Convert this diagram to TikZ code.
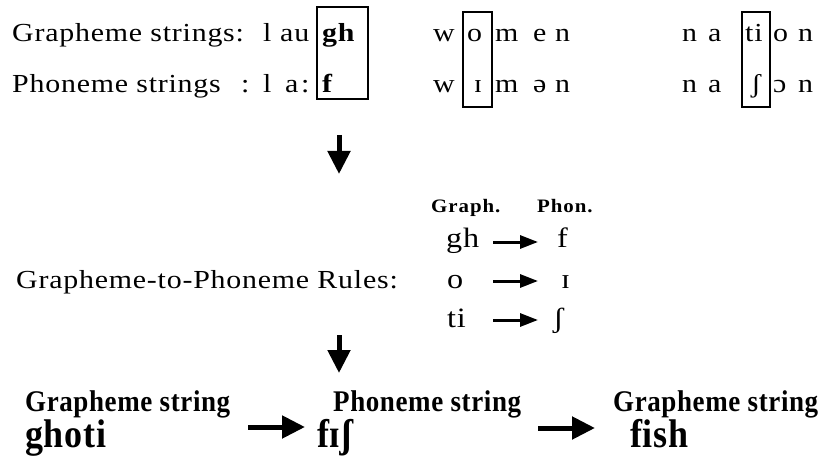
\documentclass[tikz,border=0pt]{standalone}
\usepackage{fontspec}
\setmainfont{Liberation Serif}
\newfontfamily\trackfont[FakeStretch=1.15,LetterSpace=3]{Liberation Serif}
\newfontfamily\widefont[FakeStretch=1.1,LetterSpace=5]{Liberation Serif}
\newfontfamily\narrowfont[FakeStretch=0.9,LetterSpace=2]{Liberation Serif}
\usetikzlibrary{arrows.meta}

\tikzset{
  txt/.style={inner sep=0pt,anchor=base west,font=\trackfont\fontsize{26}{30}\selectfont},
  txtb/.style={txt,font=\trackfont\bfseries\fontsize{26}{30}\selectfont},
  rtxt/.style={txt,font=\trackfont\fontsize{28}{32}\selectfont},
  hdr/.style={inner sep=0pt,anchor=base west,font=\widefont\bfseries\fontsize{19}{21}\selectfont},
  btitle/.style={inner sep=0pt,anchor=base west,font=\narrowfont\bfseries\fontsize{30}{34}\selectfont},
  bword/.style={inner sep=0pt,anchor=base west,font=\narrowfont\bfseries\fontsize{40}{44}\selectfont},
  boxline/.style={line width=2pt},
  bigarrow/.style={line width=5pt,-{Triangle[length=23pt,width=22pt]}},
  rulearrow/.style={line width=3pt,-{Triangle[length=18pt,width=13pt]}}
}

\begin{document}
\begin{tikzpicture}[x=1pt,y=-1pt]
  \useasboundingbox (0,0) rectangle (826,457);

  % Grapheme / phoneme rows
  \def\ya{42}  % grapheme baseline
  \def\yb{93}  % phoneme baseline

  \node[txt] (grow) at (12,\ya) {Grapheme strings:};
  \node[txt] (l1)   at (263,\ya) {l};
  \node[txt] (au)   at (280,\ya) {au};
  \node[txtb] (gh)  at (322,\ya) {gh};

  \node[txt] (prow) at (12,\yb) {Phoneme strings};
  \node[txt] (col)  at (241,\yb) {:};
  \node[txt] (l2)   at (263,\yb) {l};
  \node[txt] (aa)   at (285,\yb) {a};
  \node[txt] (ac)   at (301,\yb) {:};
  \node[txtb] (f)   at (322,\yb) {f};

  % women / nation, one letter per node
  \foreach \c/\x/\n in {w/433/1,o/467/2,m/495/3,e/533/4,n/555/5,
                        n/682/6,a/708/7,ti/745/8,o/773/9,n/798/10}
    \node[txt] (ga\n) at (\x,\ya) {\c};
  \foreach \c/\x/\n in {w/433/1,m/495/3,ə/533/4,n/555/5,
                        n/682/6,a/708/7,ɔ/773/9,n/798/10}
    \node[txt] (pa\n) at (\x,\yb) {\c};
  \node[txt,anchor=base] (pa2) at (478,\yb) {ɪ};
  \node[txt,anchor=base] (pa8) at (756,\yb) {ʃ};

  % Boxes round the matching parts
  \draw[boxline] (317,7) rectangle (368,99);
  \draw[boxline] (463,12) rectangle (492,107);
  \draw[boxline] (742,12) rectangle (770,107);

  % Down arrow to the rules
  \coordinate (d1s) at (339,135);
  \coordinate (d1e) at (339,174);
  \draw[bigarrow] (d1s) -- (d1e);

  % Rules
  \node[hdr] (graph) at (431,212) {Graph.};
  \node[hdr] (phon)  at (537,212) {Phon.};
  \node[txt] (rules) at (16,288) {Grapheme-to-Phoneme Rules:};

  \node[rtxt] (rg1) at (446,247) {gh};
  \node[rtxt] (rp1) at (557,247) {f};
  \node[rtxt] (rg2) at (447,288) {o};
  \node[rtxt] (rp2) at (561,288) {ɪ};
  \node[rtxt] (rg3) at (447,327) {ti};
  \node[rtxt] (rp3) at (553,327) {ʃ};

  \foreach \y/\n in {242/1,281/2,320/3}{
    \coordinate (ra\n) at (493,\y);
    \coordinate (rb\n) at (538,\y);
    \draw[rulearrow] (ra\n) -- (rb\n);
  }

  % Down arrow to the result
  \coordinate (d2s) at (339,335);
  \coordinate (d2e) at (339,373);
  \draw[bigarrow] (d2s) -- (d2e);

  % Result: ghoti -> fIS -> fish
  \node[btitle] (gs1)   at (25,411)  {Grapheme string};
  \node[bword]  (ghoti) at (25,447)  {ghoti};
  \node[btitle] (ps)    at (333,411) {Phoneme string};
  \node[bword]  (fis)   at (317,447) {fɪʃ};
  \node[btitle] (gs2)   at (613,411) {Grapheme string};
  \node[bword]  (fish)  at (630,447) {fish};

  \coordinate (h1s) at (248,427);
  \coordinate (h1e) at (305,427);
  \coordinate (h2s) at (538,428);
  \coordinate (h2e) at (595,428);
  \draw[bigarrow] (h1s) -- (h1e);
  \draw[bigarrow] (h2s) -- (h2e);
\end{tikzpicture}
\end{document}
